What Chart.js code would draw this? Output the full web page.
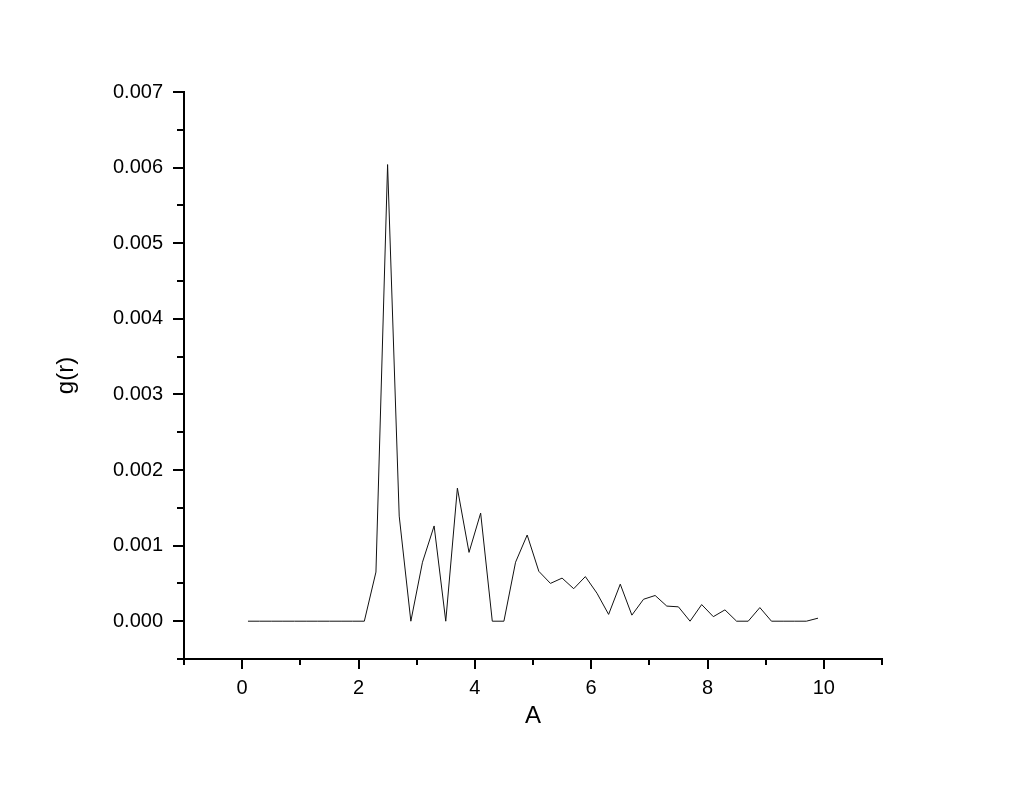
<!DOCTYPE html>
<html>
<head>
<meta charset="utf-8">
<script src="https://cdn.jsdelivr.net/npm/chart.js@4/dist/chart.umd.min.js"></script>
<style>
  html, body { margin: 0; padding: 0; background: #fff; }
  #wrap { width: 1024px; height: 791px; }
</style>
</head>
<body>
<div id="wrap"><canvas id="c" width="1024" height="791"></canvas></div>
<script>
// Data
const rValues = [0.1,0.3,0.5,0.7,0.9,1.1,1.3,1.5,1.7,1.9,2.1,2.3,2.5,2.7,2.9,3.1,3.3,3.5,3.7,3.9,
                 4.1,4.3,4.5,4.7,4.9,5.1,5.3,5.5,5.7,5.9,6.1,6.3,6.5,6.7,6.9,7.1,7.3,7.5,7.7,7.9,
                 8.1,8.3,8.5,8.7,8.9,9.1,9.3,9.5,9.7,9.9];
const gValues = [0,0,0,0,0,0,0,0,0,0,0,0.00065,0.00604,0.00139,0,0.00078,0.00126,0,0.00176,0.00091,
                 0.00143,0,0,0.00078,0.00114,0.00066,0.00050,0.00057,0.00043,0.00059,0.00037,0.00009,0.00049,0.00008,0.00029,0.00034,0.00020,0.00019,0,0.00022,
                 0.00006,0.00015,0,0,0.00018,0,0,0,0,0.00004];
const xTickLabels = ['0','2','4','6','8','10'];
const yTickLabels = ['0.000','0.001','0.002','0.003','0.004','0.005','0.006','0.007'];
const xTitle = 'A';
const yTitle = 'g(r)';

const points = rValues.map((r, i) => ({ x: r, y: gValues[i] }));

const FONT = "'Liberation Sans', Arial, sans-serif";

const tickMarks = {
  id: 'tickMarks',
  afterDraw(chart) {
    const ctx = chart.ctx;
    const xs = chart.scales.x, ys = chart.scales.y;
    const area = chart.chartArea;
    ctx.save();
    ctx.strokeStyle = '#000';
    ctx.lineWidth = 2;
    ctx.lineCap = 'butt';
    xs.ticks.forEach(t => {
      const px = Math.round(xs.getPixelForValue(t.value));
      const major = Math.abs(Math.round(t.value)) % 2 === 0;
      const len = major ? 10 : 6;
      ctx.beginPath();
      ctx.moveTo(px, area.bottom);
      ctx.lineTo(px, area.bottom + len);
      ctx.stroke();
    });
    ys.ticks.forEach(t => {
      const py = Math.round(ys.getPixelForValue(t.value));
      const k = Math.round(t.value * 10000);
      const major = k % 10 === 0;
      const len = major ? 11 : 7;
      ctx.beginPath();
      ctx.moveTo(area.left, py);
      ctx.lineTo(area.left - len, py);
      ctx.stroke();
    });
    ctx.restore();
  }
};

new Chart(document.getElementById('c'), {
  type: 'line',
  data: {
    datasets: [{
      data: points,
      borderColor: '#111',
      borderWidth: 1,
      pointRadius: 0,
      tension: 0,
      fill: false
    }]
  },
  options: {
    responsive: false,
    animation: false,
    events: [],
    layout: { padding: { left: 0, right: 142, top: 92, bottom: 0 } },
    plugins: { legend: { display: false }, tooltip: { enabled: false } },
    scales: {
      x: {
        type: 'linear',
        min: -1, max: 11,
        afterFit(s) { s.height = 132; },
        grid: { display: false },
        border: { display: true, color: '#000', width: 2 },
        ticks: {
          stepSize: 1,
          autoSkip: false,
          maxRotation: 0,
          padding: 9,
          color: '#000',
          font: { family: FONT, size: 20 },
          callback(v) {
            const k = Math.round(v);
            if (k % 2 === 0 && k >= 0 && k <= 10) return xTickLabels[k / 2];
            return '';
          }
        },
        title: {
          display: true, text: xTitle, color: '#000',
          font: { family: FONT, size: 24 },
          padding: { top: 0, bottom: 60 }
        }
      },
      y: {
        type: 'linear',
        min: -0.0005, max: 0.007,
        afterFit(s) { s.width = 184; },
        grid: { display: false },
        border: { display: true, color: '#000', width: 2 },
        ticks: {
          stepSize: 0.0005,
          autoSkip: false,
          padding: 13,
          color: '#000',
          font: { family: FONT, size: 20 },
          callback(v) {
            const k = Math.round(v * 10000);
            if (k % 10 === 0 && k >= 0) return yTickLabels[k / 10];
            return '';
          }
        },
        title: {
          display: true, text: yTitle, color: '#000',
          font: { family: FONT, size: 24 },
          padding: { top: 52, bottom: 0 }
        }
      }
    }
  },
  plugins: [tickMarks]
});
</script>
</body>
</html>
